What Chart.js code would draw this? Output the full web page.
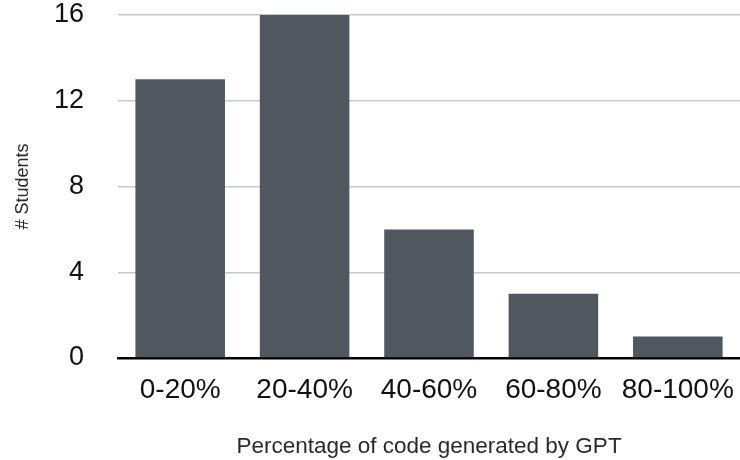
<html>
<head>
<script src="https://cdn.jsdelivr.net/npm/chart.js@4.4.0/dist/chart.umd.min.js"></script>
<style>
  body { margin: 0; background: #fff; }
  #wrap { width: 740px; height: 460px; }
</style>
</head>
<body>
<div id="wrap"><canvas id="bar-chart"></canvas></div>
<script>
var categories = ["0-20%", "20-40%", "40-60%", "60-80%", "80-100%"]
var students = [13, 16, 6, 3, 1]
var yTicks = [0, 4, 8, 12, 16]

var fontName = "'Liberation Sans', Helvetica, Arial, sans-serif"

var myChart = new Chart(document.getElementById("bar-chart"), {
  type: 'bar',
  data: {
    labels: categories,
    datasets: [{
      label: "# Students",
      data: students,
      backgroundColor: "#50575f",
      borderWidth: 0,
      barPercentage: 0.72,
      categoryPercentage: 1.0
    }]
  },
  options: {
    responsive: true,
    maintainAspectRatio: false,
    animation: false,
    layout: { padding: { top: 15, right: 0, left: 0, bottom: 0 } },
    plugins: {
      legend: { display: false },
      tooltip: { enabled: false }
    },
    scales: {
      x: {
        grid: { display: false, drawTicks: false },
        border: { display: true, color: "#000", width: 2.5 },
        ticks: {
          color: "#111",
          font: { family: fontName, size: 28 },
          padding: 15,
          maxRotation: 0
        },
        title: {
          display: true,
          text: "Percentage of code generated by GPT",
          color: "#2a2a2a",
          font: { family: fontName, size: 22.5 },
          padding: { top: 10, bottom: 0 }
        },
        afterFit: function(scale) {
          scale.height = 102
          scale.paddingLeft = 0
          scale.paddingRight = 0
        }
      },
      y: {
        min: 0,
        max: 16,
        afterBuildTicks: function(scale) {
          scale.ticks = yTicks.map(function(v) { return { value: v } })
        },
        grid: {
          drawTicks: false,
          color: function(ctx) { return ctx.tick && ctx.tick.value === 0 ? "rgba(0,0,0,0)" : "#c8c8c8" },
          lineWidth: 1.5
        },
        border: { display: false },
        ticks: {
          color: "#111",
          font: { family: fontName, size: 27 },
          padding: 34
        },
        title: {
          display: true,
          text: "# Students",
          color: "#2a2a2a",
          font: { family: fontName, size: 18 },
          padding: { top: 12, bottom: 0 }
        },
        afterFit: function(scale) {
          scale.width = 118
          scale.paddingTop = 0
          scale.paddingBottom = 0
        }
      }
    }
  }
});
</script>
</body>
</html>
